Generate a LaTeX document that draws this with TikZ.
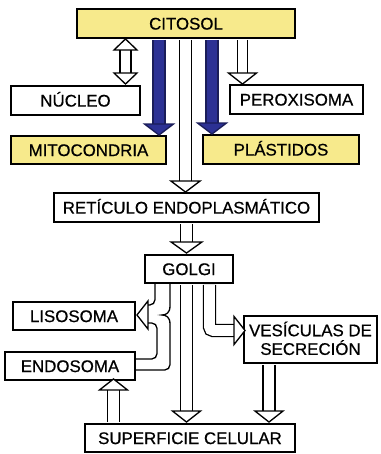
\documentclass[tikz,border=0pt]{standalone}
\usepackage{fontspec}
\setmainfont{Liberation Sans}[FakeBold=0.6]
\usetikzlibrary{calc}
\definecolor{boxyellow}{HTML}{F7EA8C}
\definecolor{arrowblue}{HTML}{2C3194}

\begin{document}
\begin{tikzpicture}[x=0.02cm, y=-0.02cm, line width=0.75pt,
        box/.style={draw, line width=1.1pt, inner sep=0pt, text height=6.9pt, text depth=0pt,
            font=\fontsize{9.6}{10.6}\selectfont},
        ybox/.style={box, fill=boxyellow},
        tube/.style={draw=black, double=white, double distance=6pt, shorten <=0.5pt},
        bluetube/.style={draw=arrowblue!60!black, double=arrowblue, double distance=6pt, shorten <=0.5pt},
        pics/hdown/.style={code={\draw[fill=#1] (-14,-11) -- (14,-11) -- (0,0) -- cycle;}},
        pics/hup/.style={code={\draw[fill=#1] (-14,11) -- (14,11) -- (0,0) -- cycle;}},
        pics/hleft/.style={code={\draw[fill=#1] (11,-14) -- (11,14) -- (0,0) -- cycle;}},
        pics/hright/.style={code={\draw[fill=#1] (-11,-14) -- (-11,14) -- (0,0) -- cycle;}},
        pics/bdown/.style={code={\draw[draw=arrowblue!60!black, fill=arrowblue] (-14.5,-11) -- (14.5,-11) -- (0,0) -- cycle;}}]
        \useasboundingbox (0,0) rectangle (380,454);
        % boxes
        \node[ybox, minimum width=4.36cm, minimum height=0.58cm] (citosol) at (186,23.5) {CITOSOL};
        \node[box, minimum width=2.58cm, minimum height=0.58cm] (nucleo) at (75.5,100.5) {NÚCLEO};
        \node[box, minimum width=2.66cm, minimum height=0.58cm] (perox) at (296.5,99.5) {PEROXISOMA};
        \node[ybox, minimum width=3.10cm, minimum height=0.56cm] (mito) at (88.5,150) {MITOCONDRIA};
        \node[ybox, minimum width=3.12cm, minimum height=0.58cm] (plast) at (281,149.5) {PLÁSTIDOS};
        \node[box, minimum width=5.30cm, minimum height=0.58cm] (re) at (186.5,207.5) {RETÍCULO ENDOPLASMÁTICO};
        \node[box, minimum width=1.76cm, minimum height=0.56cm] (golgi) at (189,269) {GOLGI};
        \node[box, minimum width=2.44cm, minimum height=0.56cm] (liso) at (74,316) {LISOSOMA};
        \node[box, minimum width=2.60cm, minimum height=0.56cm] (endo) at (70,366) {ENDOSOMA};
        \node[box, minimum width=2.66cm, minimum height=0.94cm, align=center, text height=17.5pt]
            (vesic) at (310.5,339.5) {VESÍCULAS DE\\SECRECIÓN};
        \node[box, minimum width=4.20cm, minimum height=0.56cm] (sup) at (190,438) {SUPERFICIE CELULAR};

        % arrow axes
        \coordinate (nucax) at (125.5,0);
        \coordinate (mitax) at (159,0);
        \coordinate (reax) at (185.5,0);
        \coordinate (plaax) at (212,0);
        \coordinate (perax) at (242.5,0);
        \coordinate (golax) at (186.5,0);
        \coordinate (endax) at (113.5,0);
        \coordinate (vesax) at (269,0);
        \coordinate (secbend) at (209.5,330.5);

        % citosol <-> nucleo
        \draw[tube, double distance=5.5pt, shorten <=0.2cm, shorten >=0.2cm] (citosol.south -| nucax) -- (nucleo.north -| nucax);
        \pic[xscale=0.82] at (citosol.south -| nucax) {hup=white};
        \pic[xscale=0.82] at ($(nucleo.north -| nucax)+(0,-1)$) {hdown=white};
        % citosol -> mitocondria, plastidos
        \draw[bluetube, shorten >=0.18cm] (citosol.south -| mitax) -- (mito.north -| mitax);
        \pic at (mito.north -| mitax) {bdown};
        \draw[bluetube, shorten >=0.18cm] (citosol.south -| plaax) -- (plast.north -| plaax);
        \pic at (plast.north -| plaax) {bdown};
        % citosol -> peroxisoma, RE
        \draw[tube, double distance=5pt, shorten >=0.18cm] (citosol.south -| perax) -- (perox.north -| perax);
        \pic at (perox.north -| perax) {hdown=white};
        \draw[tube, shorten >=0.18cm] (citosol.south -| reax) -- (re.north -| reax);
        \pic[xscale=1.04] at (re.north -| reax) {hdown=white};
        % RE -> golgi -> superficie
        \draw[tube, shorten >=0.18cm] (re.south -| golax) -- (golgi.north -| golax);
        \pic[xscale=1.1] at ($(golgi.north -| golax)+(0,-1)$) {hdown=white};
        \draw[tube, shorten >=0.18cm] (golgi.south -| golax) -- (sup.north -| golax);
        \pic at ($(sup.north -| golax)+(0,-1)$) {hdown=white};
        % golgi -> vesiculas -> superficie
        \draw[tube, rounded corners=2pt, shorten >=0.18cm] (golgi.south -| secbend) -- (secbend) -- (vesic.west |- secbend);
        \pic at ($(vesic.west |- secbend)+(2,0)$) {hright=white};
        \draw[tube, shorten >=0.18cm] (vesic.south -| vesax) -- (sup.north -| vesax);
        \pic at ($(sup.north -| vesax)+(0,-1)$) {hdown=white};
        % superficie -> endosoma
        \draw[tube, shorten >=0.18cm] (sup.north -| endax) -- (endo.south -| endax);
        \pic at ($(endo.south -| endax)+(0,-2)$) {hup=white};
        % golgi and endosoma -> lisosoma
        \draw[rounded corners=3pt] (155,283) -- (155,305) -- (146,305);
        \draw[rounded corners=3pt] (146,323) -- (157,323) -- (157,359) -- (endo.east |- 0,359);
        \draw (170,283) -- (170,306) .. controls (170,313) and (166,315) .. (162,315)
            .. controls (166,315) and (170,317) .. (170,324) [rounded corners=3pt] -- (170,370) -- (endo.east |- 0,370);
        \pic at ($(liso.east)+(1,-1)$) {hleft=white};
    \end{tikzpicture}
\end{document}
